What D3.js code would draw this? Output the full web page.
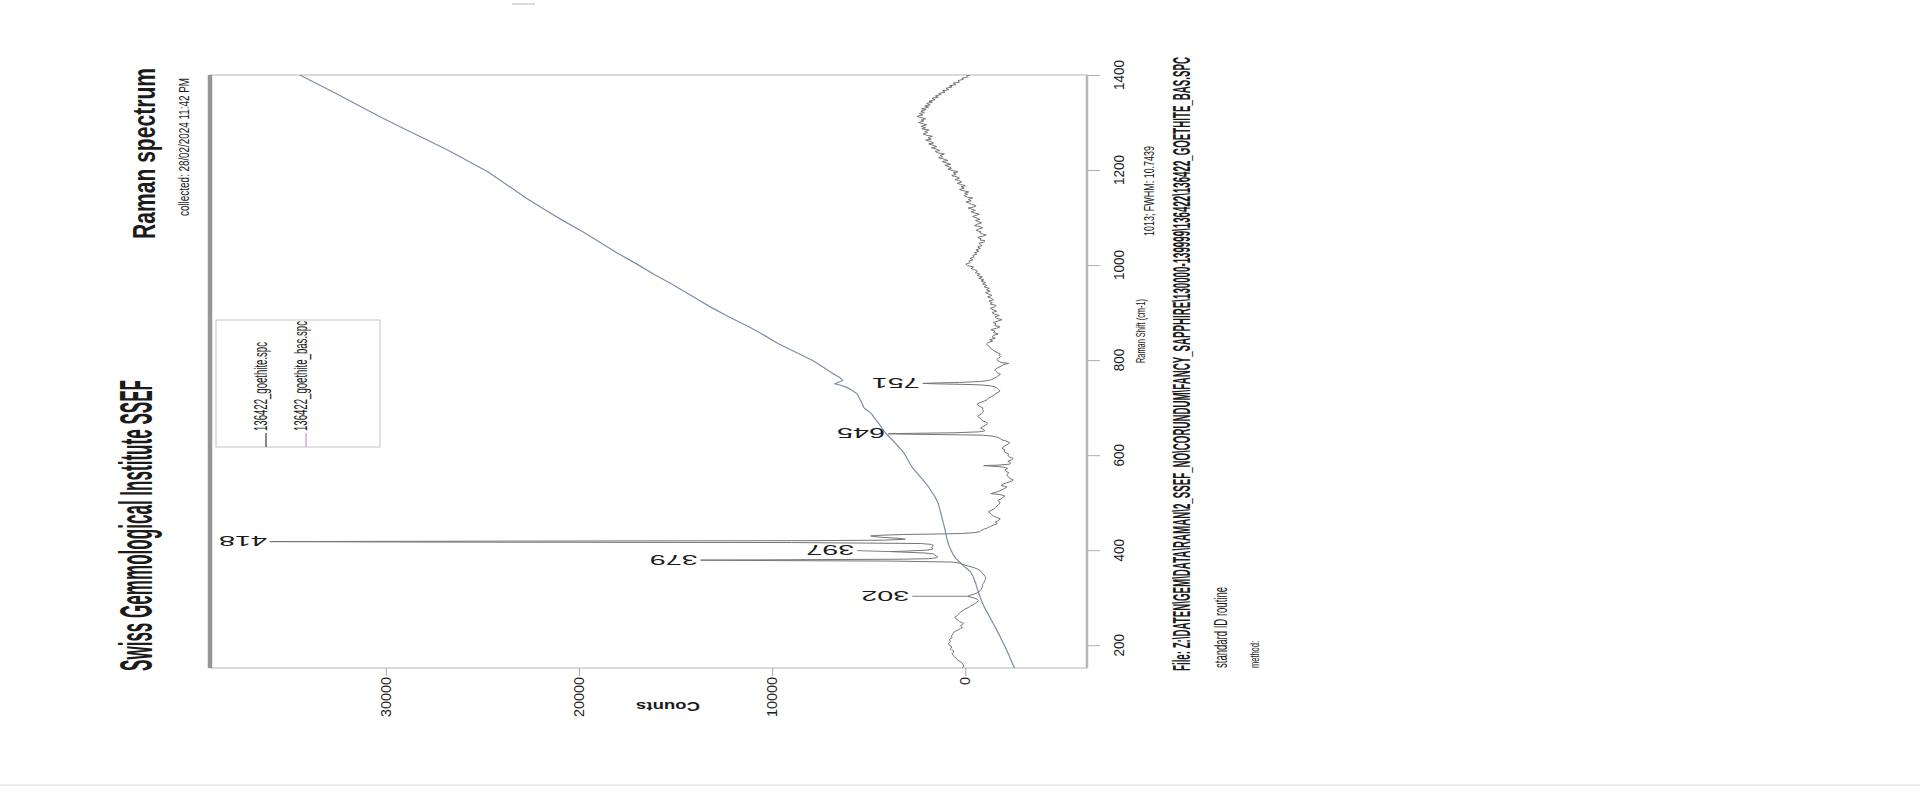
<!DOCTYPE html>
<html>
<head>
<meta charset="utf-8">
<script src="https://cdn.jsdelivr.net/npm/d3@7"></script>
<style>
  html, body { margin: 0; padding: 0; background: #fff; }
  svg { display: block; }
  text { font-family: "Liberation Sans", Arial, sans-serif; fill: #1b1b1b; }
</style>
</head>
<body>
<script>
/*
 * Scanned SSEF Raman spectrum, printed landscape and photographed rotated:
 * Raman shift runs bottom -> top, counts run right -> left.
 */

const shiftTicks = [200, 400, 600, 800, 1000, 1200, 1400];
const countTicks = [0, 10000, 20000, 30000];
const seriesNames = ['136422_goethite.spc', '136422_goethite_bas.spc'];

// [Raman shift, counts] — smooth fluorescence-like trace
const rawPoints = [
  [152,-2550],[165,-2400],[180,-2250],[195,-2080],[210,-1900],[228,-1680],[245,-1450],
  [262,-1230],[279,-1000],[290,-880],[300,-780],[315,-650],[330,-540],[345,-400],
  [355,-250],[362,-60],[368,120],[374,260],[382,480],[390,620],[400,740],[410,850],
  [425,960],[441,1040],[458,1140],[475,1250],[498,1400],[512,1560],[525,1780],
  [536,1950],[546,2150],[560,2450],[574,2750],[588,2950],[603,3150],[614,3380],
  [624,3600],[635,3850],[645,4100],[656,4300],[668,4500],[678,4700],[687,4850],
  [700,5250],[715,5420],[729,5600],[736,5850],[742,6100],[747,6450],[750,6750],
  [753,6600],[757,6350],[762,6450],[767,6650],[773,6900],[785,7350],[799,7900],
  [817,8800],[835,9700],[852,10400],[870,11200],[890,12200],[912,13200],[935,14150],
  [960,15200],[980,16100],[1002,17000],[1025,18000],[1050,19000],[1070,19800],
  [1093,20800],[1115,21700],[1140,22700],[1168,23700],[1196,24700],[1218,25700],
  [1240,26700],[1262,27800],[1286,29000],[1312,30300],[1340,31600],[1368,32900],
  [1397,34300],[1400,34450]
];

// [Raman shift, counts] — baseline-corrected trace with the peaks
const basPoints = [
  [152,150],[156,80],[160,120],[164,200],[168,380],[172,470],[176,560],[179,640],[182,690],
  [185,610],[188,600],[191,720],[193,780],[196,690],[198,740],[201,850],[203,880],[206,790],
  [208,760],[211,830],[213,800],[216,680],[219,720],[221,690],[224,640],[227,610],[230,480],
  [232,380],[235,250],[237,150],[240,240],[242,210],[244,130],[246,100],[248,200],[250,300],
  [252,360],[255,470],[257,510],[259,540],[262,420],[264,380],[266,330],[268,290],[270,230],
  [273,120],[276,30],[279,-150],[282,-260],[285,-400],[288,-520],[291,-610],[294,-680],
  [297,-600],[299,-480],[301,-300],[303,-130],[305,-230],[307,-420],[309,-560],[311,-640],
  [313,-720],[315,-780],[318,-820],[321,-870],[324,-900],[327,-880],[330,-940],[333,-980],
  [336,-1010],[339,-1040],[342,-1060],[345,-1020],[348,-960],[351,-900],[354,-850],
  [357,-760],[360,-640],[363,-460],[365,-300],[367,-120],[369,60],[371,200],[373,320],
  [375,700],[377,3800],[378,9500],[379,13700],[380,8200],[381,3200],[382,1900],[384,1500],
  [386,1420],[388,1500],[390,1580],[392,1650],[394,2100],[396,3300],[397,3900],[398,3100],
  [400,2000],[402,1700],[404,1680],[406,1760],[408,1720],[410,1650],[412,1750],[414,2300],
  [416,9000],[417,28000],[418,36000],[419,24000],[420,8000],[421,4200],[423,3100],
  [425,3500],[427,4300],[429,4800],[430,4900],[431,4600],[433,3200],[434,1400],[435,200],
  [437,-500],[439,-760],[441,-800],[444,-950],[447,-1150],[450,-1300],[453,-1480],
  [456,-1660],[459,-1550],[462,-1700],[466,-1810],[469,-1620],[472,-1450],[475,-1350],
  [478,-1280],[481,-1200],[484,-1350],[487,-1480],[490,-1560],[493,-1650],[496,-1720],
  [499,-1800],[502,-1760],[505,-1700],[508,-1850],[511,-1950],[514,-2050],[517,-1800],
  [519,-1320],[521,-1500],[524,-1750],[527,-1900],[530,-2050],[533,-2150],[536,-1850],
  [539,-1950],[542,-2150],[545,-2400],[548,-2480],[551,-2300],[554,-2250],[557,-2150],
  [560,-2180],[563,-2250],[566,-2100],[569,-2050],[572,-2200],[575,-1950],[577,-1300],
  [578,-950],[579,-1700],[581,-2300],[584,-2350],[587,-2200],[590,-2400],[593,-2480],
  [596,-2300],[599,-2200],[602,-2250],[605,-2100],[608,-2000],[611,-2050],[614,-1900],
  [617,-1950],[620,-2070],[623,-2200],[626,-2300],[629,-2150],[632,-1900],[635,-1800],
  [638,-1650],[640,-1400],[642,-900],[643,800],[644,3000],[645,4000],[646,2600],[647,600],
  [649,-700],[651,-1000],[654,-950],[657,-800],[660,-900],[663,-1050],[666,-1150],
  [669,-1100],[672,-900],[675,-850],[678,-750],[681,-650],[684,-700],[687,-850],[690,-900],
  [693,-950],[696,-880],[699,-920],[702,-780],[705,-650],[708,-620],[711,-800],[714,-1000],
  [717,-1140],[720,-1200],[723,-1350],[726,-1500],[729,-1550],[732,-1700],[735,-1800],
  [738,-1720],[741,-1650],[744,-1500],[746,-1300],[748,-700],[749,200],[750,1500],
  [751,2200],[752,1400],[753,300],[755,-800],[757,-1200],[759,-1350],[761,-1450],
  [764,-1600],[767,-1700],[770,-1820],[773,-1680],[776,-1600],[779,-1520],[782,-1600],
  [785,-1750],[788,-1880],[791,-2000],[793,-2250],[795,-1850],[798,-1700],[801,-1640],
  [804,-1720],[807,-1820],[810,-1760],[813,-1810],[816,-1650],[819,-1500],[822,-1420],
  [825,-1300],[828,-1260],[831,-1150],[834,-1100],[837,-1180],[840,-1420],[843,-1260],
  [846,-1550],[849,-1380],[852,-1470],[855,-1700],[858,-1450],[861,-1530],[864,-1330],
  [867,-1610],[870,-1790],[873,-1520],[876,-1600],[879,-1450],[882,-1680],[885,-1900],
  [888,-1620],[891,-1540],[894,-1760],[897,-1500],[900,-1380],[903,-1620],[906,-1450],
  [909,-1300],[912,-1520],[915,-1600],[918,-1280],[921,-1400],[924,-1220],[927,-1460],
  [930,-1350],[933,-1150],[936,-1380],[939,-1200],[942,-1050],[945,-1290],[948,-1100],
  [951,-1240],[954,-980],[957,-1120],[960,-900],[963,-1050],[966,-820],[969,-960],
  [972,-700],[975,-880],[978,-620],[981,-750],[984,-520],[987,-640],[990,-480],[993,-300],
  [996,-420],[999,-120],[1002,-30],[1005,-260],[1008,-180],[1011,-380],[1014,-250],
  [1017,-460],[1020,-390],[1023,-600],[1026,-480],[1029,-700],[1032,-560],[1035,-780],
  [1038,-640],[1041,-860],[1043,-780],[1046,-700],[1048,-940],[1051,-1020],[1053,-760],
  [1055,-820],[1058,-650],[1061,-900],[1063,-1080],[1066,-880],[1068,-740],[1070,-820],
  [1073,-560],[1076,-700],[1078,-900],[1081,-760],[1083,-480],[1086,-620],[1089,-840],
  [1091,-700],[1094,-520],[1096,-760],[1099,-600],[1102,-380],[1104,-500],[1107,-720],
  [1110,-460],[1112,-300],[1115,-520],[1117,-380],[1120,-150],[1122,-420],[1125,-560],
  [1128,-300],[1130,-220],[1133,-40],[1135,-300],[1138,-160],[1141,-380],[1143,-90],
  [1146,60],[1149,-120],[1151,40],[1154,-180],[1157,150],[1159,300],[1162,60],[1165,220],
  [1167,0],[1170,260],[1172,420],[1175,180],[1178,340],[1180,540],[1183,300],[1186,460],
  [1188,700],[1191,480],[1194,620],[1196,380],[1199,660],[1202,900],[1204,720],[1207,840],
  [1210,1060],[1212,760],[1215,980],[1218,1200],[1220,900],[1223,1100],[1226,1380],
  [1228,1180],[1231,1300],[1234,1080],[1236,1420],[1239,1560],[1241,1320],[1244,1500],
  [1247,1750],[1249,1480],[1252,1660],[1255,1900],[1257,1640],[1260,1800],[1263,2050],
  [1265,1760],[1268,1920],[1271,1700],[1273,2000],[1276,2180],[1279,1950],[1281,2100],
  [1284,1880],[1287,2250],[1289,2050],[1292,2300],[1295,2000],[1297,2160],[1300,2420],
  [1303,2150],[1305,2280],[1308,2050],[1311,2350],[1313,2500],[1316,2200],[1319,2380],
  [1321,2120],[1324,2300],[1327,2040],[1329,2260],[1332,1900],[1335,2100],[1337,1820],
  [1340,2000],[1343,1700],[1345,1880],[1348,1560],[1351,1720],[1353,1400],[1356,1550],
  [1359,1250],[1361,1380],[1364,1050],[1367,1180],[1369,860],[1372,1000],[1375,680],
  [1377,820],[1380,480],[1383,620],[1385,300],[1388,380],[1391,100],[1393,180],
  [1396,-120],[1398,-60],[1400,-250]
];

// peak annotations
const peakNames = ['302', '379', '397', '418', '645', '751'];
const peakShift = [303, 379, 397, 418, 645, 751];
const peakCounts = [-130, 13700, 3900, 36000, 4000, 2200];
const peakLabelShift = [303, 379, 399, 418, 645, 751];
const peakLabelCounts = [2750, 13700, 5600, 36000, 4000, 2200];

const W = 1920;
const H = 793;
const frame = { left: 210, right: 1087, top: 75, bottom: 668 };

const svg = d3.select('body')
  .append('svg')
    .attr('width', W)
    .attr('height', H);

// scales: Raman shift on the vertical, counts on the horizontal (reversed)
const shiftScale = d3.scaleLinear()
    .domain([152, 1400])
    .range([frame.bottom, frame.top]);

const countScale = d3.scaleLinear()
    .domain([-6300, 39100])
    .range([frame.right, frame.left]);

/*
 * Text written bottom-to-top (rotated -90), squeezed to a measured length.
 */
const vText = (x, y, str, size, anchor, len, weight) =>
  svg.append('text')
      .attr('transform', `translate(${x},${y}) rotate(-90)`)
      .attr('text-anchor', anchor)
      .attr('font-size', size)
      .attr('font-weight', weight || 'normal')
      .attr('textLength', len)
      .attr('lengthAdjust', 'spacingAndGlyphs')
      .text(str);

// scan artefacts on the page
svg.append('line')
    .attr('x1', 0).attr('x2', W).attr('y1', 785).attr('y2', 785)
    .attr('stroke', '#ececec').attr('stroke-width', 2);
svg.append('line')
    .attr('x1', 512).attr('x2', 535).attr('y1', 4).attr('y2', 4)
    .attr('stroke', '#cfcfcf').attr('stroke-width', 1.5);

// header
vText(152, 671, 'Swiss Gemmological Institute SSEF', 46, 'start', 291, 'bold');
vText(155, 68, 'Raman spectrum', 32, 'end', 171, 'bold');
vText(189, 78, 'collected:  28/02/2024  11:42 PM', 15, 'end', 138);

// plot frame
svg.append('rect')
    .attr('x', frame.left)
    .attr('y', frame.top)
    .attr('width', frame.right - frame.left)
    .attr('height', frame.bottom - frame.top)
    .attr('fill', 'none')
    .attr('stroke', '#c2c2c2')
    .attr('stroke-width', 1.2);
svg.append('line')
    .attr('x1', frame.left).attr('x2', frame.left)
    .attr('y1', frame.top).attr('y2', frame.bottom)
    .attr('stroke', '#969696').attr('stroke-width', 4.5);
svg.append('line')
    .attr('x1', frame.right).attr('x2', frame.right)
    .attr('y1', frame.top).attr('y2', frame.bottom)
    .attr('stroke', '#b8b8b8').attr('stroke-width', 2.5);

// axes (tick marks only, labels are placed below)
svg.append('g')
    .attr('transform', `translate(0,${frame.bottom})`)
    .call(d3.axisBottom(countScale).tickValues(countTicks).tickSize(8).tickFormat(''))
    .call(g => g.select('.domain').remove())
    .call(g => g.selectAll('line').attr('stroke', '#a8a8a8'));

svg.append('g')
    .attr('transform', `translate(${frame.right},0)`)
    .call(d3.axisRight(shiftScale).tickValues(shiftTicks).tickSize(13).tickFormat(''))
    .call(g => g.select('.domain').remove())
    .call(g => g.selectAll('line').attr('stroke', '#b0b0b0'));

svg.selectAll('.count-label')
  .data(countTicks)
  .join('text')
    .attr('class', 'count-label')
    .attr('transform', d => `translate(${countScale(d) + 5},677) rotate(-90)`)
    .attr('text-anchor', 'end')
    .attr('font-size', 14)
    .attr('textLength', d => String(d).length * 8)
    .attr('lengthAdjust', 'spacingAndGlyphs')
    .text(d => d);

svg.selectAll('.shift-label')
  .data(shiftTicks)
  .join('text')
    .attr('class', 'shift-label')
    .attr('transform', d => `translate(1124,${shiftScale(d)}) rotate(-90)`)
    .attr('text-anchor', 'middle')
    .attr('font-size', 15)
    .attr('textLength', d => String(d).length * 7.5)
    .attr('lengthAdjust', 'spacingAndGlyphs')
    .text(d => d);

// "Counts" label ends up upside down after the page rotation
svg.append('text')
    .attr('transform', 'translate(668,706) rotate(180)')
    .attr('y', 4.5)
    .attr('text-anchor', 'middle')
    .attr('font-size', 12.5)
    .attr('font-weight', 'bold')
    .attr('textLength', 64)
    .attr('lengthAdjust', 'spacingAndGlyphs')
    .text('Counts');

// spectra
svg.append('clipPath')
    .attr('id', 'plot-clip')
  .append('rect')
    .attr('x', frame.left)
    .attr('y', frame.top)
    .attr('width', frame.right - frame.left)
    .attr('height', frame.bottom - frame.top);

const line = d3.line()
    .x(d => countScale(d[1]))
    .y(d => shiftScale(d[0]));

const plot = svg.append('g').attr('clip-path', 'url(#plot-clip)');

plot.append('path')
    .datum(rawPoints)
    .attr('d', line)
    .attr('fill', 'none')
    .attr('stroke', '#7b8da6')
    .attr('stroke-width', 1.2);

plot.append('path')
    .datum(basPoints)
    .attr('d', line)
    .attr('fill', 'none')
    .attr('stroke', '#757575')
    .attr('stroke-width', 1);

// peak leaders and labels
plot.selectAll('.leader')
  .data(peakNames)
  .join('line')
    .attr('class', 'leader')
    .attr('x1', (d, i) => countScale(peakCounts[i]))
    .attr('y1', (d, i) => shiftScale(peakShift[i]))
    .attr('x2', (d, i) => countScale(peakLabelCounts[i]))
    .attr('y2', (d, i) => shiftScale(peakLabelShift[i]))
    .attr('stroke', '#808080')
    .attr('stroke-width', 1);

svg.selectAll('.peak-label')
  .data(peakNames)
  .join('text')
    .attr('class', 'peak-label')
    .attr('transform', (d, i) =>
      `translate(${countScale(peakLabelCounts[i]) - 3},${shiftScale(peakLabelShift[i])}) rotate(180)`)
    .attr('y', 5.4)
    .attr('font-size', 15)
    .attr('textLength', 48)
    .attr('lengthAdjust', 'spacingAndGlyphs')
    .text(d => d);

// legend
svg.append('rect')
    .attr('x', 216)
    .attr('y', 320)
    .attr('width', 164)
    .attr('height', 127)
    .attr('fill', '#fff')
    .attr('stroke', '#c4c4c4')
    .attr('stroke-width', 1);

const swatchColors = ['#5f5f72', '#cfa6dc'];
const legendX = [266, 306];
const legendLen = [89, 110];

seriesNames.forEach((name, i) => {
  svg.append('line')
      .attr('x1', legendX[i]).attr('x2', legendX[i])
      .attr('y1', 433).attr('y2', 447)
      .attr('stroke', swatchColors[i])
      .attr('stroke-width', 1.5);
  vText(legendX[i] + 1, 431, name, 18, 'start', legendLen[i]);
});

// footer
vText(1145, 363, 'Raman Shift (cm-1)', 13, 'start', 64);
vText(1154, 236, '1013; FWHM: 10.7439', 15, 'start', 90);
vText(1190, 671,
  'File: Z:\\DATEN\\GEM\\DATA\\RAMAN\\2_SSEF_NO\\CORUNDUM\\FANCY_SAPPHIRE\\130000-139999\\136422\\136422_GOETHITE_BAS.SPC',
  24, 'start', 614, 'bold');
vText(1227, 668, 'standard ID routine', 19, 'start', 81);
vText(1259, 668, 'method:', 12, 'start', 27);
</script>
</body>
</html>
